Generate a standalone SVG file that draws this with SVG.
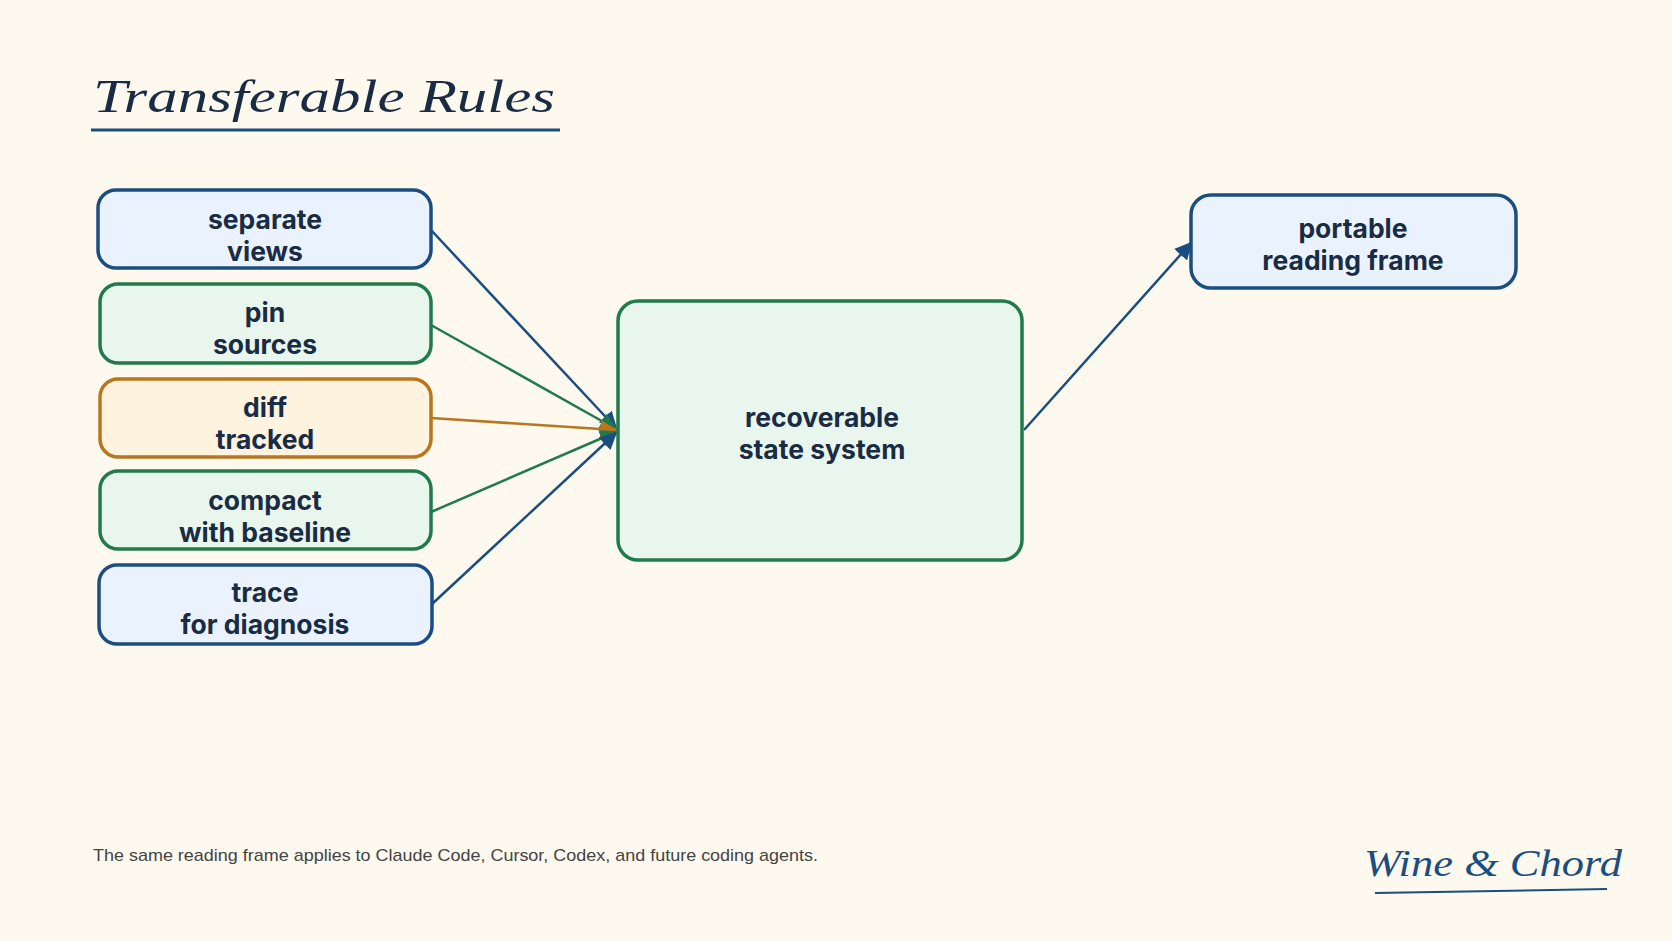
<svg xmlns="http://www.w3.org/2000/svg" width="1672" height="941" viewBox="0 0 1672 941">
<defs>
<style>
.t{font-family:Inter,"Noto Sans",sans-serif;font-weight:700;font-size:26.5px;fill:#1a2b44;text-anchor:middle}
.hand{font-family:"Segoe Print","Comic Sans MS","Liberation Serif",cursive;font-style:italic;fill:#1a2b44}
.blue{fill:#eaf3fd;stroke:#1b4d80;stroke-width:3.5}
.green{fill:#e9f6ee;stroke:#217a4b;stroke-width:3.5}
.orange{fill:#fdf3de;stroke:#b8771f;stroke-width:3.5}
.c{fill:none;stroke-width:2.5}
</style>
<marker id="mb" viewBox="0 0 10 10" refX="9" refY="5" markerWidth="7" markerHeight="7" orient="auto"><path d="M0,0L10,5L0,10z" fill="#1b4d80"/></marker>
<marker id="mg" viewBox="0 0 10 10" refX="9" refY="5" markerWidth="7" markerHeight="7" orient="auto"><path d="M0,0L10,5L0,10z" fill="#217a4b"/></marker>
<marker id="mo" viewBox="0 0 10 10" refX="9" refY="5" markerWidth="7" markerHeight="7" orient="auto"><path d="M0,0L10,5L0,10z" fill="#b8771f"/></marker>
</defs>
<rect width="1672" height="941" fill="#fdf9ef"/>
<text class="hand" x="93" y="112" font-size="46" textLength="462" lengthAdjust="spacingAndGlyphs">Transferable Rules</text>
<line x1="91" y1="130" x2="560" y2="130" stroke="#1b4d80" stroke-width="3"/>
<g id="connectors">
<line class="c" x1="431" y1="230" x2="616" y2="428" stroke="#1b4d80" marker-end="url(#mb)"/>
<line class="c" x1="431" y1="325" x2="616" y2="429" stroke="#217a4b" marker-end="url(#mg)"/>
<line class="c" x1="431" y1="418" x2="616" y2="430" stroke="#b8771f" marker-end="url(#mo)"/>
<line class="c" x1="431" y1="512" x2="616" y2="432" stroke="#217a4b" marker-end="url(#mg)"/>
<line class="c" x1="431" y1="605" x2="616" y2="433" stroke="#1b4d80" marker-end="url(#mb)"/>
<line class="c" x1="1024" y1="430" x2="1191" y2="243" stroke="#1b4d80" stroke-width="3" marker-end="url(#mb)"/>
</g>
<g id="n1"><rect class="blue" x="98" y="190" width="333" height="78" rx="18"/><text class="t" x="265" y="229">separate</text><text class="t" x="265" y="261">views</text></g>
<g id="n2"><rect class="green" x="100" y="284" width="331" height="79" rx="18"/><text class="t" x="265" y="322">pin</text><text class="t" x="265" y="354">sources</text></g>
<g id="n3"><rect class="orange" x="100" y="379" width="331" height="78" rx="18"/><text class="t" x="265" y="417">diff</text><text class="t" x="265" y="449">tracked</text></g>
<g id="n4"><rect class="green" x="100" y="471" width="331" height="78" rx="18"/><text class="t" x="265" y="510">compact</text><text class="t" x="265" y="542">with baseline</text></g>
<g id="n5"><rect class="blue" x="99" y="565" width="333" height="79" rx="18"/><text class="t" x="265" y="602">trace</text><text class="t" x="265" y="634">for diagnosis</text></g>
<g id="n6"><rect class="green" x="618" y="301" width="404" height="259" rx="20"/><text class="t" x="822" y="427">recoverable</text><text class="t" x="822" y="459">state system</text></g>
<g id="n7"><rect class="blue" x="1191" y="195" width="325" height="93" rx="20"/><text class="t" x="1353" y="238">portable</text><text class="t" x="1353" y="270">reading frame</text></g>
<text x="93" y="861" font-family="Liberation Sans,Arial,sans-serif" font-size="17" fill="#444" textLength="725" lengthAdjust="spacingAndGlyphs">The same reading frame applies to Claude Code, Cursor, Codex, and future coding agents.</text>
<text class="hand" x="1364" y="876" font-size="38" style="fill:#1b4d80" textLength="258" lengthAdjust="spacingAndGlyphs">Wine &amp; Chord</text>
<line x1="1375" y1="893" x2="1607" y2="889" stroke="#1b4d80" stroke-width="2"/>
</svg>
